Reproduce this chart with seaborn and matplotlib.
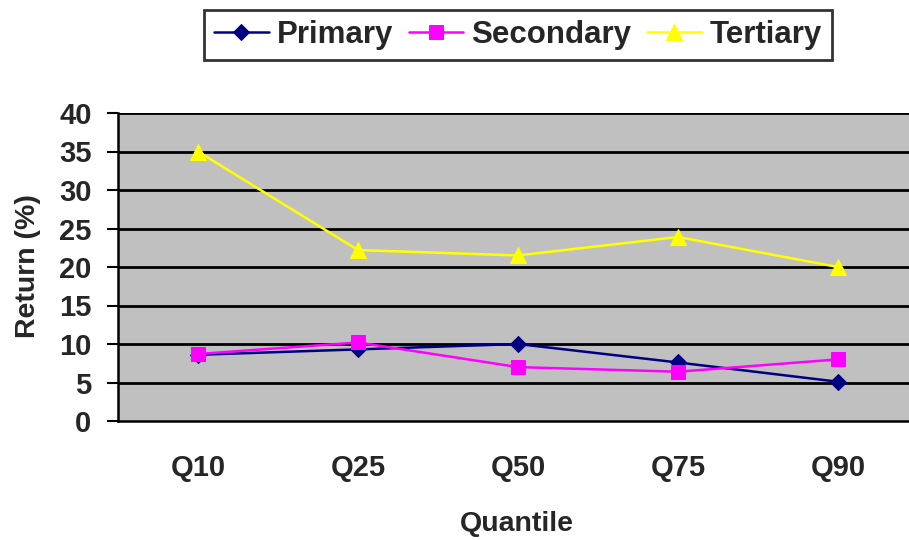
import matplotlib
matplotlib.use("Agg")
import matplotlib.pyplot as plt
import seaborn as sns
import pandas as pd
import numpy as np

categories = ["Q10", "Q25", "Q50", "Q75", "Q90"]
primary = [8.6, 9.3, 10.0, 7.6, 5.1]
secondary = [8.7, 10.2, 7.0, 6.4, 8.0]
tertiary = [35.0, 22.2, 21.5, 23.9, 20.0]
series_names = ["Primary", "Secondary", "Tertiary"]
y_ticks = [0, 5, 10, 15, 20, 25, 30, 35, 40]

sns.set_theme(style="white")
plt.rcParams['font.family'] = ['Liberation Sans', 'DejaVu Sans']
plt.rcParams['font.weight'] = 'bold'

rows = []
for name, vals in zip(series_names, [primary, secondary, tertiary]):
    for i, (c, v) in enumerate(zip(categories, vals)):
        rows.append({"Quantile": i, "Return": v, "Series": name})
df = pd.DataFrame(rows)

W, H = 909, 540
fig = plt.figure(figsize=(W / 100, H / 100), dpi=100)
ax = fig.add_axes([118 / W, (540 - 421) / H, 800 / W, 308 / H])
ax.set_facecolor("#C0C0C0")

palette = {"Primary": "#000080", "Secondary": "#FF00FF", "Tertiary": "#FFFF00"}
markers = {"Primary": "D", "Secondary": "s", "Tertiary": "^"}
sizes = {"Primary": 8.5, "Secondary": 10, "Tertiary": 11.5}

for name in series_names:
    sub = df[df["Series"] == name]
    sns.lineplot(data=sub, x="Quantile", y="Return", color=palette[name],
                 marker=markers[name], markersize=sizes[name],
                 markeredgecolor=palette[name], linewidth=1.8, ax=ax,
                 label=name, legend=False)

ax.set_xlim(-0.5, 4.5)
ax.set_ylim(0, 40)
ax.set_yticks(y_ticks)
ax.set_yticklabels([str(t) for t in y_ticks], fontsize=21, fontweight='bold')
ax.set_xticks(range(len(categories)))
ax.set_xticklabels(categories, fontsize=21, fontweight='bold')
ax.set_xticks(np.arange(-0.5, 4.6, 1.0), minor=True)
ax.tick_params(axis='x', which='major', length=0, pad=24)
ax.tick_params(axis='x', which='minor', length=8, width=1.5, color='black', direction='out')
ax.tick_params(axis='y', which='major', length=8, width=1.5, color='black', direction='out', pad=11, left=True)

for t in y_ticks[1:]:
    ax.axhline(t, color='black', linewidth=2, zorder=1)

for s in ['top', 'right']:
    ax.spines[s].set_visible(False)
for s in ['left', 'bottom']:
    ax.spines[s].set_color('black')
    ax.spines[s].set_linewidth(1.8)

ax.set_xlabel("Quantile", fontsize=20.5, fontweight='bold')
ax.set_ylabel("Return (%)", fontsize=20.5, fontweight='bold')
ax.xaxis.set_label_coords((517 - 118) / 800, (421 - 511) / 308)
ax.yaxis.set_label_coords((41 - 118) / 800, (421 - 266) / 308)

handles, labels = ax.get_legend_handles_labels()
leg = fig.legend(handles, labels, loc='center', bbox_to_anchor=(518 / W, 1 - 34.5 / H),
                 ncol=3, frameon=True, fancybox=False, edgecolor='black',
                 prop={'size': 22.5, 'weight': 'bold'}, handlelength=1.75,
                 handletextpad=0.26, columnspacing=0.5, borderpad=0.32,
                 borderaxespad=0)
leg.get_frame().set_linewidth(2)

fig.savefig("out.png", dpi=100)
